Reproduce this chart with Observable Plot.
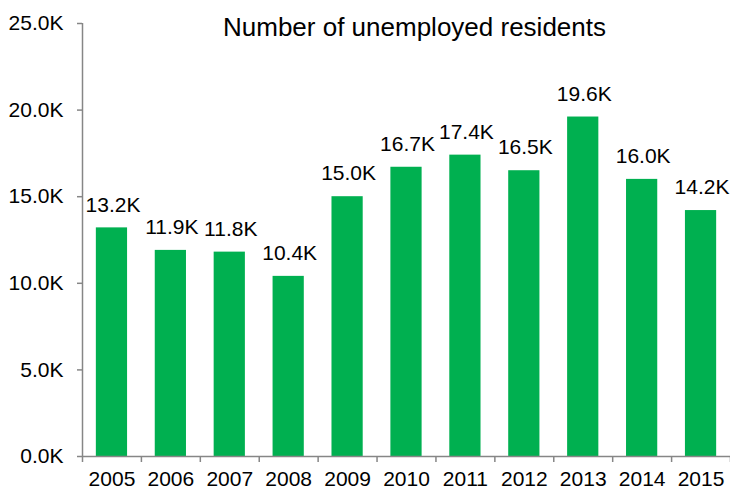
<!DOCTYPE html>
<html>
<head>
<meta charset="utf-8">
<script src="https://cdn.jsdelivr.net/npm/d3@7"></script>
<script src="https://cdn.jsdelivr.net/npm/@observablehq/plot@0.6"></script>
<style>
  body { margin: 0; background: #fff; }
</style>
</head>
<body>
<div id="chart"></div>
<script>
const years = ["2005","2006","2007","2008","2009","2010","2011","2012","2013","2014","2015"];
const values = [13.2, 11.9, 11.8, 10.4, 15.0, 16.7, 17.4, 16.5, 19.6, 16.0, 14.2]; // thousands
const yTicks = [0, 5, 10, 15, 20, 25];
const title = "Number of unemployed residents";

const data = years.map((y, i) => ({year: y, value: values[i]}));

const W = 730, H = 492;
const mL = 82, mR = 0, mT = 23, mB = 36;
const step = (W - mL - mR) / years.length;
const axisColor = "#868686";
const fmt = d => d.toFixed(1) + "K";
const fs = 21;

const chart = Plot.plot({
  width: W,
  height: H,
  marginLeft: mL,
  marginRight: mR,
  marginTop: mT,
  marginBottom: mB,
  style: {fontFamily: "Arial, 'Liberation Sans', sans-serif", fontSize: fs + "px", color: "black", background: "white"},
  x: {type: "band", domain: years, paddingInner: 0.47, paddingOuter: 0.235, round: false, label: null},
  y: {domain: [0, 25], label: null},
  marks: [
    Plot.barY(data, {x: "year", y: "value", fill: "#00B050"}),
    // y axis line
    Plot.ruleX([years[0]], {x: d => d, y1: 0, y2: 25, dx: -step / 2, stroke: axisColor, strokeWidth: 1.5}),
    // x axis baseline
    Plot.ruleY([0], {stroke: axisColor, strokeWidth: 1.5}),
    // x boundary ticks
    Plot.ruleX(years, {x: d => d, y1: 0, y2: 0, insetBottom: -6, dx: step / 2, stroke: axisColor, strokeWidth: 1.5}),
    Plot.ruleX([years[0]], {x: d => d, y1: 0, y2: 0, insetBottom: -6, dx: -step / 2, stroke: axisColor, strokeWidth: 1.5}),
    Plot.axisY({ticks: yTicks, tickFormat: fmt, tickSize: 5, tickPadding: 14, stroke: axisColor, strokeWidth: 1.5, fill: "black", fontSize: fs}),
    Plot.axisX({tickSize: 0, tickPadding: 15, fill: "black", fontSize: fs}),
    Plot.text(data, {x: "year", y: "value", text: d => fmt(d.value), dy: -23, dx: 1, lineAnchor: "middle", fill: "black", fontSize: fs}),
    Plot.text([title], {frameAnchor: "top", text: d => d, dx: 8, dy: 4, lineAnchor: "middle", fill: "black", fontSize: 26})
  ]
});
document.getElementById("chart").appendChild(chart);
</script>
</body>
</html>
